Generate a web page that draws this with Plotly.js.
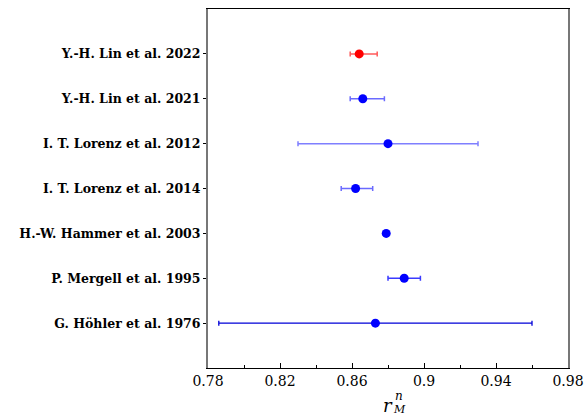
<!DOCTYPE html>
<html>
<head>
<meta charset="utf-8">
<script src="https://cdn.plot.ly/plotly-3.0.1.min.js"></script>
<style>html,body{margin:0;padding:0;background:#fff}#chart{width:584px;height:417px}</style>
</head>
<body>
<div id="chart"></div>
<script>
// bottom to top
const labels = ["G. Höhler et al. 1976", "P. Mergell et al. 1995", "H.-W. Hammer et al. 2003",
  "I. T. Lorenz et al. 2014", "I. T. Lorenz et al. 2012", "Y.-H. Lin et al. 2021", "Y.-H. Lin et al. 2022"];
const values = [0.873, 0.889, 0.879, 0.862, 0.880, 0.866, 0.864];
const errPlus = [0.087, 0.009, 0.0, 0.0095, 0.050, 0.012, 0.010];
const errMinus = [0.087, 0.009, 0.0, 0.008, 0.050, 0.007, 0.005];
const xTicks = [0.78, 0.82, 0.86, 0.90, 0.94, 0.98];
const xTickText = ["0.78", "0.82", "0.86", "0.9", "0.94", "0.98"];

// styles
const markerColors = ["#0000ff", "#0000ff", "#0000ff", "#0000ff", "#0000ff", "#0000ff", "#ff0000"];
const errColors = ["#0000d8", "#3a3aff", "#0000ff", "#6a6aff", "#7f7fff", "#6a6aff", "#ff5a5a"];
const errWidths = [1.3, 1.5, 1.5, 1.5, 1.5, 1.5, 1.5];
const SERIF = "DejaVu Serif";

const traces = labels.map((lab, i) => ({
  type: "scatter", mode: "markers",
  x: [values[i]], y: [i + 1],
  marker: {color: markerColors[i], size: 9},
  error_x: {type: "data", symmetric: false, array: [errPlus[i]], arrayminus: [errMinus[i]],
    visible: errPlus[i] > 0 || errMinus[i] > 0, color: errColors[i], thickness: errWidths[i], width: 2.5},
  showlegend: false, hoverinfo: "x"
}));

const layout = {
  width: 584, height: 417,
  margin: {l: 208, r: 16, t: 9, b: 49},
  paper_bgcolor: "#fff", plot_bgcolor: "#fff",
  font: {family: SERIF, color: "#000"},
  xaxis: {
    range: [0.78, 0.98], tickvals: xTicks, ticktext: xTickText,
    ticks: "inside", ticklen: 5, tickcolor: "#000",
    minor: {dtick: 0.02, tick0: 0.78, ticks: "inside", ticklen: 3, tickcolor: "#000", showgrid: false},
    showgrid: false, zeroline: false,
    showline: true, linecolor: "#000", linewidth: 1, mirror: true,
    tickfont: {size: 14, family: SERIF}
  },
  yaxis: {
    range: [0, 8], tickvals: labels.map((l, i) => i + 1), ticktext: labels,
    ticks: "outside", ticklen: 3, tickcolor: "#000",
    showgrid: false, zeroline: false,
    showline: true, linecolor: "#777", linewidth: 2, mirror: true,
    tickfont: {size: 12.5, family: SERIF, weight: "bold"}
  },
  annotations: [
    {xref: "paper", yref: "paper", x: 0.5, y: 0, yshift: -37, text: "<i>r</i>", showarrow: false,
     font: {size: 18, family: SERIF}, xanchor: "center", yanchor: "middle"},
    {xref: "paper", yref: "paper", x: 0.5, y: 0, xshift: 11, yshift: -28, text: "<i>n</i>", showarrow: false,
     font: {size: 12, family: SERIF}, xanchor: "center", yanchor: "middle"},
    {xref: "paper", yref: "paper", x: 0.5, y: 0, xshift: 11, yshift: -41, text: "<i>M</i>", showarrow: false,
     font: {size: 11, family: SERIF}, xanchor: "center", yanchor: "middle"}
  ]
};

Plotly.newPlot("chart", traces, layout, {displayModeBar: false, staticPlot: true});
</script>
</body>
</html>
